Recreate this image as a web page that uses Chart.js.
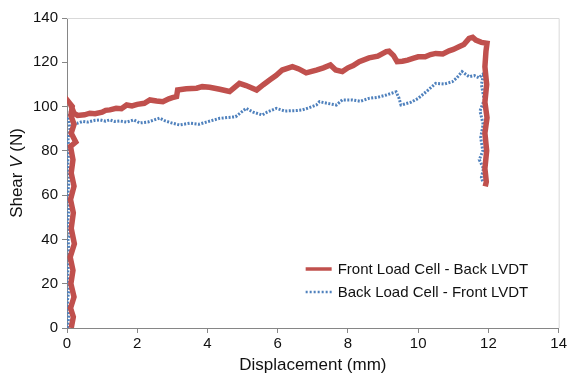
<!DOCTYPE html>
<html>
<head>
<meta charset="utf-8">
<title>Shear vs Displacement</title>
<script src="https://cdn.jsdelivr.net/npm/chart.js@4.4.1/dist/chart.umd.min.js"></script>
<style>
    html, body { margin: 0; padding: 0; background: #fff; }
    #wrap { width: 569px; height: 376px; position: relative; }
</style>
</head>
<body>
<div id="wrap"><canvas id="shearChart" width="569" height="376"></canvas></div>
<script>
// 系列名
const seriesLabels = ['Front Load Cell - Back LVDT', 'Back Load Cell - Front LVDT'];

// Front Load Cell - Back LVDT（赤）
const frontX = [
    0.12, 0.18, 0.10, 0.20, 0.11, 0.17, 0.09, 0.21, 0.12, 0.18, 0.10, 0.20, 0.12, 0.17,
    0.10, 0.25, 0.12, 0.20, 0.11, 0.15, 0.10, 0.20,
    0.30, 0.50, 0.65, 0.80, 1.00, 1.10, 1.22, 1.40, 1.55, 1.70, 1.85, 2.00, 2.20, 2.36,
    2.55, 2.73, 2.90, 3.00, 3.12, 3.15, 3.40, 3.69, 3.85, 4.06,
    4.35, 4.63, 4.91, 5.10, 5.40, 5.60, 5.77, 5.95, 6.13, 6.42, 6.60, 6.81, 7.10, 7.30,
    7.50, 7.65, 7.84, 8.00, 8.15, 8.32, 8.60, 8.85, 9.09, 9.17, 9.30, 9.40, 9.55, 9.70,
    9.85, 10.00, 10.20, 10.35, 10.50, 10.70, 10.88, 11.00, 11.16, 11.30, 11.45, 11.55,
    11.64, 11.80, 11.96,
    11.93, 11.90, 11.95, 11.90, 11.96, 11.90, 11.95, 11.90, 11.94, 11.91
];
const frontY = [
    0, 5, 9, 14, 20, 26, 32, 38, 45, 52, 58, 64, 70, 76,
    82, 84, 88, 92, 96, 100, 101, 97,
    96, 96.3, 97, 96.8, 97.5, 98.3, 98.5, 99.2, 99, 100.7, 100.3, 101, 101.5, 103,
    102.5, 102.2, 103.5, 104, 104.5, 107.5, 108, 108.3, 109, 108.7,
    107.8, 106.8, 110.5, 109.5, 107.5, 110, 112, 114, 116.5, 118, 117, 115.2, 116.5, 117.5,
    118.8, 116.5, 115.8, 117.5, 118.5, 120.3, 122, 122.8, 124.8, 125, 123, 120.3, 120.5, 121,
    121.8, 122.5, 122.5, 123.5, 124, 123.8, 125.2, 125.8, 127, 128, 130.8, 131.3,
    130, 129, 128.6,
    125, 118, 110, 102, 95, 88, 80, 72, 66, 64
];

// Back Load Cell - Front LVDT（青）
const backX = [
    0.02, 0.05, 0.01, 0.06, 0.02, 0.07, 0.03, 0.08, 0.02, 0.06, 0.03, 0.07, 0.02, 0.06,
    0.03, 0.08, 0.04, 0.10, 0.15,
    0.30, 0.45, 0.60, 0.80, 0.94, 1.10, 1.22, 1.35, 1.50, 1.70, 1.90, 2.07, 2.30, 2.45,
    2.64, 2.80, 3.00, 3.20, 3.50, 3.75, 3.97, 4.15, 4.35,
    4.80, 5.10, 5.30, 5.56, 5.70, 5.96, 6.20, 6.53, 6.70, 6.90, 7.10, 7.19, 7.40, 7.67, 7.84,
    8.12, 8.35, 8.60, 8.85, 9.09, 9.37, 9.45, 9.51, 9.65, 9.80, 10.00, 10.25, 10.50,
    10.75, 10.97, 11.10, 11.25, 11.45, 11.60, 11.73, 11.87,
    11.80, 11.88, 11.76, 11.85, 11.78, 11.84, 11.74, 11.86, 11.80, 11.84
];
const backY = [
    0, 6, 12, 18, 25, 32, 40, 42, 48, 55, 62, 68, 75, 80,
    85, 90, 95, 98, 93,
    92.5, 93.3, 93, 93.8, 94, 93.4, 94, 93.3, 93.5, 93, 94, 92.6, 93, 93.8,
    94.8, 93.5, 92.5, 91.7, 92.5, 92, 93, 93.8, 94.7,
    95.4, 99.2, 97.5, 96.2, 97.5, 99.2, 98, 98.2, 98.5, 99.5, 100.7, 102.2, 101.5, 100.7, 103,
    103, 102.4, 103.7, 104.2, 105.2, 106.7, 104, 100.7, 101.3, 102, 103.7, 107, 110.5,
    110.2, 111.2, 113, 115.8, 113.5, 114, 113, 115,
    110, 103, 98, 92, 86, 80, 76, 72, 68, 66
];

// 軸の目盛り
const xTicks = [0, 2, 4, 6, 8, 10, 12, 14];
const yTicks = [0, 20, 40, 60, 80, 100, 120, 140];

const RED = '#C0504D';
const BLUE = '#4F81BD';
const AXIS_GRAY = '#868686';
const TEXT = '#111111';
const FONT = '"Liberation Sans", Arial, sans-serif';

/**
 * x, y配列から点の配列を作る
 */
function toPoints(xs, ys) {
    return xs.map((x, i) => ({ x: x, y: ys[i] }));
}

// 上と右の枠線
const frameLines = {
    id: 'frameLines',
    beforeDatasetsDraw(chart) {
        const { ctx, chartArea } = chart;
        ctx.save();
        ctx.strokeStyle = '#d9d9d9';
        ctx.lineWidth = 1;
        ctx.beginPath();
        ctx.moveTo(chartArea.left, chartArea.top + 0.5);
        ctx.lineTo(chartArea.right + 0.5, chartArea.top + 0.5);
        ctx.lineTo(chartArea.right + 0.5, chartArea.bottom);
        ctx.stroke();
        ctx.restore();
    }
};

// 縦軸タイトル（Vだけ斜体）
const yAxisTitle = {
    id: 'yAxisTitle',
    afterDraw(chart) {
        const { ctx, chartArea } = chart;
        const parts = [
            { text: 'Shear ', font: '17px ' + FONT },
            { text: 'V', font: 'italic 17px ' + FONT },
            { text: ' (N)', font: '17px ' + FONT }
        ];
        let total = 0;
        parts.forEach(p => {
            ctx.font = p.font;
            p.w = ctx.measureText(p.text).width;
            total += p.w;
        });
        ctx.save();
        ctx.translate(17, (chartArea.top + chartArea.bottom) / 2);
        ctx.rotate(-Math.PI / 2);
        ctx.fillStyle = TEXT;
        ctx.textBaseline = 'middle';
        ctx.textAlign = 'left';
        let x = -total / 2;
        parts.forEach(p => {
            ctx.font = p.font;
            ctx.fillText(p.text, x, 0);
            x += p.w;
        });
        ctx.restore();
    }
};

// 凡例（プロット内の右下）
const innerLegend = {
    id: 'innerLegend',
    afterDraw(chart) {
        const { ctx, chartArea } = chart;
        const x0 = chartArea.right - 253;
        const rows = [chartArea.bottom - 59, chartArea.bottom - 36];
        ctx.save();
        ctx.font = '15px ' + FONT;
        ctx.textBaseline = 'middle';
        ctx.fillStyle = TEXT;
        chart.data.datasets.forEach((ds, i) => {
            const y = rows[i];
            ctx.strokeStyle = ds.borderColor;
            ctx.lineWidth = i === 0 ? 3.5 : 2.5;
            ctx.setLineDash(i === 0 ? [] : [2, 2]);
            ctx.beginPath();
            ctx.moveTo(x0, y);
            ctx.lineTo(x0 + 26, y);
            ctx.stroke();
            ctx.setLineDash([]);
            ctx.fillText(ds.label, x0 + 32, y + 1);
        });
        ctx.restore();
    }
};

document.addEventListener('DOMContentLoaded', () => {
    const ctx = document.getElementById('shearChart');
    new Chart(ctx, {
        type: 'scatter',
        data: {
            datasets: [
                {
                    label: seriesLabels[0],
                    data: toPoints(frontX, frontY),
                    showLine: true,
                    borderColor: RED,
                    backgroundColor: RED,
                    borderWidth: 5.5,
                    borderJoinStyle: 'miter',
                    pointRadius: 0,
                    tension: 0
                },
                {
                    label: seriesLabels[1],
                    data: toPoints(backX, backY),
                    showLine: true,
                    borderColor: BLUE,
                    backgroundColor: BLUE,
                    borderWidth: 3,
                    borderDash: [2, 1.5],
                    pointRadius: 0,
                    tension: 0
                }
            ]
        },
        options: {
            responsive: false,
            animation: false,
            layout: { padding: { top: 18, right: 9, left: 0, bottom: 0 } },
            plugins: {
                legend: { display: false },
                tooltip: { enabled: false }
            },
            scales: {
                x: {
                    type: 'linear',
                    min: 0,
                    max: 14,
                    afterBuildTicks: axis => { axis.ticks = xTicks.map(v => ({ value: v })); },
                    afterFit: axis => { axis.height = 48; },
                    grid: { drawOnChartArea: false, color: AXIS_GRAY, tickLength: 5 },
                    border: { color: AXIS_GRAY },
                    ticks: { color: TEXT, font: { family: FONT, size: 15 }, padding: 2, maxRotation: 0 },
                    title: {
                        display: true,
                        text: 'Displacement (mm)',
                        color: TEXT,
                        font: { family: FONT, size: 17 },
                        padding: { top: 0, bottom: 0 }
                    }
                },
                y: {
                    type: 'linear',
                    min: 0,
                    max: 140,
                    afterBuildTicks: axis => { axis.ticks = yTicks.map(v => ({ value: v })); },
                    afterFit: axis => { axis.width = 67; },
                    grid: { drawOnChartArea: false, color: AXIS_GRAY, tickLength: 5 },
                    border: { color: AXIS_GRAY },
                    ticks: { color: TEXT, font: { family: FONT, size: 15 }, padding: 4 }
                }
            }
        },
        plugins: [frameLines, yAxisTitle, innerLegend]
    });
});
</script>
</body>
</html>
